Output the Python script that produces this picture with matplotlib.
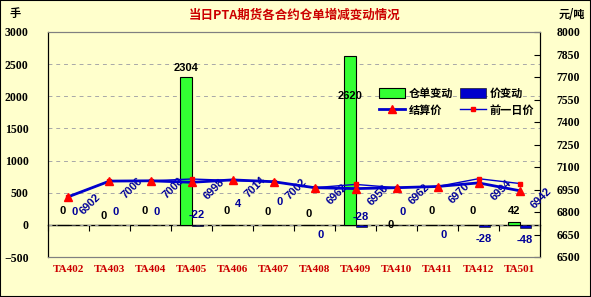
import numpy as np
import matplotlib
matplotlib.use("Agg")
import matplotlib.pyplot as plt

plt.rcParams['font.family'] = ['Noto Sans CJK SC', 'DejaVu Sans']

contracts = ['TA402', 'TA403', 'TA404', 'TA405', 'TA406', 'TA407',
             'TA408', 'TA409', 'TA410', 'TA411', 'TA412', 'TA501']
warrant_chg = [0, 0, 0, 2304, 0, 0, 0, 2620, 0, 0, 0, 42]
price_chg = [0, 0, 0, -22, 4, 0, 0, -28, 0, 0, -28, -48]
settle = [6902, 7006, 7008, 6998, 7014, 7002, 6962, 6956, 6962, 6970, 6994, 6942]
prev_settle = [6902, 7006, 7008, 7020, 7010, 7002, 6962, 6984, 6962, 6970, 7022, 6990]

# where excel happened to drop the bar labels (left axis units)
warrant_lbl_y = [210, 140, 210, 2440, 210, 195, 165, 2000, 0, 210, 210, 210]
price_lbl_y = [195, 195, 195, 150, 320, 350, -160, 120, 200, -160, -220, -240]

bg = '#FFFFCC'
navy = '#000099'
red = '#CC0000'
serif = 'Liberation Serif'

fig = plt.figure(figsize=(5.91, 2.97), dpi=100, facecolor=bg)
fig.patches.append(plt.Rectangle((0, 0), 1, 1, transform=fig.transFigure,
                                 fill=False, edgecolor='black', lw=1.5))
ax = fig.add_axes([48 / 591, 40 / 297, 492 / 591, 225 / 297], facecolor=bg)
ax2 = ax.twinx()

x = np.arange(len(contracts))
w = 0.28
ax.bar(x - w / 2, warrant_chg, w, color='#33FF33', edgecolor='black', lw=0.8,
       label='仓单变动', zorder=3)
ax.bar(x + w / 2, price_chg, w, color='#0000CC', edgecolor='black', lw=0.4,
       label='价变动', zorder=3)

for i in range(len(contracts)):
    ax.text(x[i] - w / 2, warrant_lbl_y[i], str(warrant_chg[i]), ha='center',
            va='center', fontsize=8, fontweight='bold', family='Liberation Sans',
            color='black', zorder=5)
    ax.text(x[i] + w / 2, price_lbl_y[i], str(price_chg[i]), ha='center',
            va='center', fontsize=8, fontweight='bold', family='Liberation Sans',
            color=navy, zorder=5)

ax.set_xlim(-0.5, len(contracts) - 0.5)
ax.set_ylim(-500, 3000)
ax.set_yticks(np.arange(-500, 3001, 500))
ax.yaxis.grid(True, linestyle=(0, (4, 4)), color='#A8A8A8', lw=0.7)
ax.set_axisbelow(True)
ax.tick_params(axis='y', length=0, pad=14)
ax.set_xticks(x)
ax.set_xticklabels(contracts)
ax.tick_params(axis='x', length=0, pad=6)
for lab in ax.get_xticklabels():
    lab.set_color(red)
    lab.set_fontweight('bold')
    lab.set_fontsize(8)
    lab.set_family(serif)
for lab in ax.get_yticklabels():
    lab.set_fontweight('bold')
    lab.set_fontsize(8.5)
    lab.set_family(serif)

# zero line with category boundary ticks
zero = ax.secondary_xaxis(500 / 3500)
zero.set_xticks(np.arange(-0.5, len(contracts), 1))
zero.tick_params(length=4, width=0.8, direction='out', labelbottom=False)
zero.spines['bottom'].set_linewidth(1.0)

for s in ['top', 'bottom']:
    ax.spines[s].set_color('#808080')
ax.spines['left'].set_color('black')

ax2.plot(x, prev_settle, color='#0000CC', lw=1.0, marker='s', ms=3,
         mfc='#FF0000', mec='#FF0000', label='前一日价', zorder=4)
ax2.plot(x, settle, color='#0000CC', lw=2.0, marker='^', ms=6,
         mfc='#FF0000', mec='#FF0000', label='结算价', zorder=5)
for i in range(len(contracts)):
    ax2.annotate(str(settle[i]), (x[i], settle[i]), xytext=(16, -5),
                 textcoords='offset points', rotation=45, ha='center',
                 va='center', fontsize=8, fontweight='bold',
                 family='Liberation Sans', color=navy)
ax2.set_ylim(6500, 8000)
ax2.set_yticks(np.arange(6500, 8001, 150))
ax2.tick_params(axis='y', direction='in', length=4, pad=12)
for lab in ax2.get_yticklabels():
    lab.set_fontweight('bold')
    lab.set_fontsize(8.5)
    lab.set_family(serif)
for s in ['top', 'bottom']:
    ax2.spines[s].set_color('#808080')

h1, l1 = ax.get_legend_handles_labels()
h2, l2 = ax2.get_legend_handles_labels()
handles = [h1[0], h2[1], h1[1], h2[0]]
labels = [l1[0], l2[1], l1[1], l2[0]]
ax2.legend(handles, labels, ncol=2, loc='center',
           bbox_to_anchor=(0.83, 0.69), frameon=False, handlelength=2.4,
           handleheight=0.9, columnspacing=0.6, handletextpad=0.3,
           labelspacing=0.35, prop={'size': 8, 'weight': 'bold'})

fig.text(295 / 591, 1 - 15 / 297, '当日PTA期货各合约仓单增减变动情况',
         ha='center', va='center', color=red, fontsize=9, fontweight='bold')
fig.text(15 / 591, 1 - 14 / 297, '手', ha='center', va='center',
         fontsize=8, fontweight='bold')
fig.text(572 / 591, 1 - 14 / 297, '元/吨', ha='center', va='center',
         fontsize=8, fontweight='bold')

fig.savefig('out.png', dpi=100, facecolor=bg)
